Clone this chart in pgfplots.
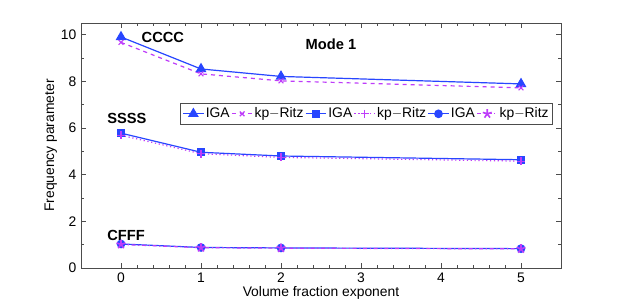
\documentclass[border=0pt]{standalone}
\usepackage{pgfplots}
\pgfplotsset{compat=1.18}
\usepackage{fontspec}
\setmainfont{Liberation Sans}
\definecolor{igab}{RGB}{40,70,255}
\definecolor{kpm}{RGB}{190,60,250}
\begin{document}
\begin{tikzpicture}[x=0.75pt,y=0.75pt]
\path[fill=white] (0,0) rectangle (620,302);
\begin{axis}[
  at={(60.75pt,25.5pt)}, anchor=south west,
  scale only axis, width=360pt, height=183.75pt,
  xmin=-0.5, xmax=5.5, ymin=0, ymax=10.5,
  xtick={0,1,2,3,4,5}, ytick={0,2,4,6,8,10},
  minor x tick num=4, minor y tick num=1,
  tick align=inside, tick pos=both,
  major tick length=4pt, minor tick length=2pt,
  every tick/.style={black!70, line width=0.4pt},
  axis line style={black!70, line width=0.5pt},
  /pgf/number format/assume math mode=true,
  tick label style={font=\fontsize{10.4}{12}\selectfont},
  label style={font=\fontsize{10.4}{12}\selectfont},
  xlabel={Volume fraction exponent},
  ylabel={Frequency parameter},
  xlabel style={yshift=4pt},
  ylabel style={yshift=-4pt},
  legend columns=6,
  legend style={at={(axis cs:0.74,7.08)}, anchor=north west, font=\fontsize{10.4}{12}\selectfont,
    draw=black!70, line width=0.5pt, inner sep=1.5pt, column sep=0pt,
    nodes={inner xsep=1.2pt},
    /tikz/every even column/.append style={column sep=0pt}},
  legend image code/.code={\draw[mark repeat=2,mark phase=2] plot coordinates {(0cm,0cm) (0.27cm,0cm) (0.54cm,0cm)};},
]
\addplot[color=igab, line width=0.9pt, mark=triangle*, mark size=3.8pt] coordinates {(0,9.90) (1,8.53) (2,8.21) (5,7.89)};
\addlegendentry{IGA}
\addplot[color=kpm, line width=0.9pt, dashed, mark=x, mark size=2.5pt, mark options={solid}] coordinates {(0,9.67) (1,8.32) (2,8.02) (5,7.72)};
\addlegendentry{kp$-$Ritz}
\addplot[color=igab, line width=0.9pt, mark=square*, mark size=2.6pt] coordinates {(0,5.78) (1,4.96) (2,4.80) (5,4.64)};
\addlegendentry{IGA}
\addplot[color=kpm, line width=0.9pt, dotted, mark=+, mark size=3pt, mark options={solid}] coordinates {(0,5.69) (1,4.90) (2,4.74) (5,4.58)};
\addlegendentry{kp$-$Ritz}
\addplot[color=igab, line width=0.9pt, mark=*, mark size=2.8pt] coordinates {(0,1.03) (1,0.88) (2,0.86) (5,0.83)};
\addlegendentry{IGA}
\addplot[color=kpm, line width=0.9pt, dash dot, mark=star, mark size=3.5pt, mark options={solid, fill=kpm, line width=1.2pt}] coordinates {(0,1.01) (1,0.87) (2,0.85) (5,0.82)};
\addlegendentry{kp$-$Ritz}
\node[anchor=west, font=\bfseries\fontsize{11}{13}\selectfont] at (axis cs:0.2,9.9) {CCCC};
\node[font=\bfseries\fontsize{11}{13}\selectfont] at (axis cs:2.625,9.57) {Mode 1};
\node[anchor=west, font=\bfseries\fontsize{11}{13}\selectfont] at (axis cs:-0.23,6.43) {SSSS};
\node[anchor=west, font=\bfseries\fontsize{11}{13}\selectfont] at (axis cs:-0.23,1.41) {CFFF};
\end{axis}
\end{tikzpicture}
\end{document}
